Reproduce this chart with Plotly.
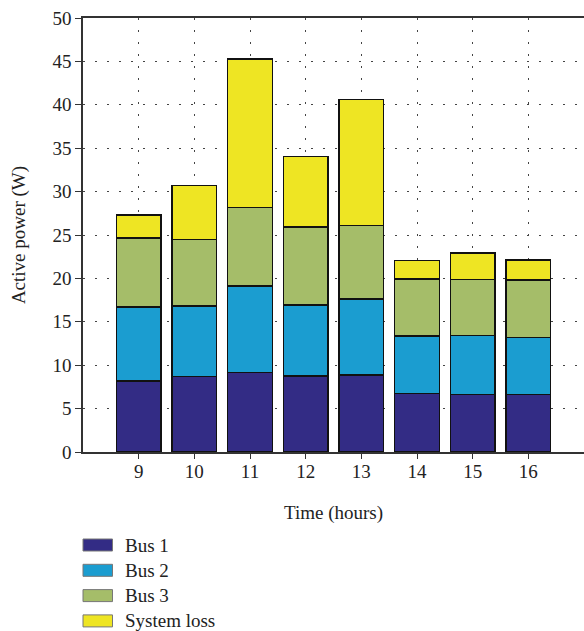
import plotly.graph_objects as go

hours = [9, 10, 11, 12, 13, 14, 15, 16]
bus1 = [8.2, 8.7, 9.15, 8.75, 8.85, 6.75, 6.65, 6.65]
bus2 = [8.5, 8.1, 9.95, 8.2, 8.8, 6.6, 6.8, 6.55]
bus3 = [7.95, 7.7, 9.05, 8.95, 8.45, 6.6, 6.45, 6.6]
loss = [2.65, 6.2, 17.15, 8.15, 14.5, 2.1, 3.0, 2.3]

names = ["Bus 1", "Bus 2", "Bus 3", "System loss"]
colors = ["#332C85", "#1B9DD0", "#A5BD69", "#EEE523"]
values = [bus1, bus2, bus3, loss]

FONT = "Liberation Serif"
W, H = 584, 631
ML, MR, MT, MB = 83, 0, 18, 179
PW, PH = W - ML - MR, H - MT - MB

fig = go.Figure()
for name, vals, col in zip(names, values, colors):
    fig.add_trace(go.Bar(
        x=hours, y=vals, name=name,
        marker=dict(color=col, line=dict(color="#111111", width=1.5)),
    ))

# custom legend (wide swatches like the original)
def py2paper(py):
    return (H - MB - py) / PH

def px2paper(px):
    return (px - ML) / PW

shapes = []
annotations = []
for i, (name, col) in enumerate(zip(names, colors)):
    cy = 545 + i * 25.3
    shapes.append(dict(
        type="rect", xref="paper", yref="paper",
        x0=px2paper(83), x1=px2paper(112.5),
        y0=py2paper(cy + 6), y1=py2paper(cy - 6),
        fillcolor=col, line=dict(color="#777777", width=1), layer="above",
    ))
    annotations.append(dict(
        xref="paper", yref="paper", x=px2paper(123), y=py2paper(cy),
        xanchor="left", yanchor="middle", text=name, showarrow=False,
        font=dict(family=FONT, size=19, color="#222222"),
    ))

grid_dash = "2px,10px"
fig.update_layout(
    barmode="stack",
    bargap=0.2,
    width=W, height=H,
    margin=dict(l=ML, r=MR, t=MT, b=MB, autoexpand=False),
    paper_bgcolor="white",
    plot_bgcolor="white",
    font=dict(family=FONT, size=19, color="#222222"),
    showlegend=False,
    shapes=shapes,
    annotations=annotations,
    xaxis=dict(
        range=[8, 17],
        tickvals=hours,
        ticktext=[str(h) for h in hours],
        ticks="outside", ticklen=5, tickcolor="#333333",
        ticklabelstandoff=-4,
        showline=True, linecolor="#333333", linewidth=1.5, mirror=True,
        showgrid=True, gridcolor="#444444", gridwidth=1, griddash=grid_dash,
        zeroline=False,
        title=dict(text="Time (hours)", standoff=25, font=dict(family=FONT, size=19)),
        tickfont=dict(family=FONT, size=19),
    ),
    yaxis=dict(
        range=[0, 50],
        tickvals=list(range(0, 51, 5)),
        ticks="outside", ticklen=6, tickcolor="#333333",
        showline=True, linecolor="#333333", linewidth=1.5,
        showgrid=True, gridcolor="#444444", gridwidth=1, griddash=grid_dash,
        zeroline=False,
        title=dict(text="Active power (W)", standoff=22, font=dict(family=FONT, size=19)),
        tickfont=dict(family=FONT, size=19),
    ),
)

fig.write_html("out.html")
